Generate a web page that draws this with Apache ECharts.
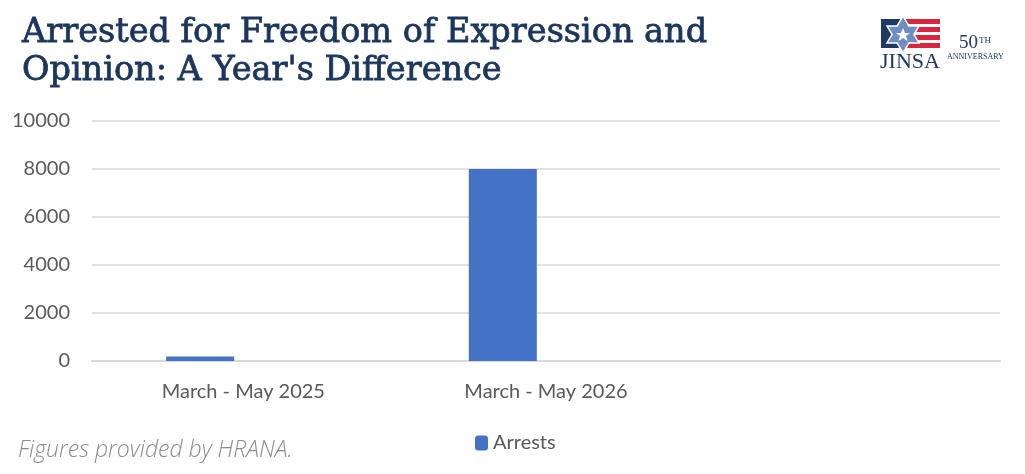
<!DOCTYPE html>
<html style="height: 100%">
<head>
    <meta charset="utf-8">
</head>
<body style="height: 100%; margin: 0">
<div id="container" style="height: 100%"></div>

<script type="text/javascript" src="https://cdn.jsdelivr.net/npm/echarts@6/dist/echarts.min.js"></script>
<script type="text/javascript">
    // data
    var categories = ['March - May 2025', 'March - May 2026', ''];
    var arrests = [190, 8000, null];
    var emptySeries = [null, null, null];
    var yTicks = [0, 2000, 4000, 6000, 8000, 10000];

    var dom = document.getElementById("container");
    var myChart = echarts.init(dom);

    var option;

    option = {
        animation: false,
        title: {
            text: 'Arrested for Freedom of Expression and\nOpinion: A Year\'s Difference',
            left: 17,
            top: 9,
            textStyle: {
                fontFamily: 'DejaVu Serif',
                fontWeight: 'normal',
                fontSize: 33.5,
                lineHeight: 38,
                color: '#1b365d',
                textBorderColor: '#1b365d',
                textBorderWidth: 0.8
            }
        },
        legend: {
            data: ['Arrests'],
            left: 470,
            top: 428,
            itemWidth: 13,
            itemHeight: 15,
            itemGap: 6,
            textStyle: {
                fontFamily: 'Lato',
                fontSize: 20,
                color: '#595959'
            }
        },
        grid: {
            left: 92,
            right: 25,
            top: 121,
            bottom: 113
        },
        xAxis: {
            type: 'category',
            data: categories,
            axisTick: { show: false },
            axisLine: { lineStyle: { color: '#d9d9d9', width: 2 } },
            axisLabel: {
                fontFamily: 'Lato',
                fontSize: 20,
                color: '#595959',
                margin: 21
            }
        },
        yAxis: {
            type: 'value',
            min: yTicks[0],
            max: yTicks[yTicks.length - 1],
            interval: yTicks[1] - yTicks[0],
            axisLine: { show: false },
            axisTick: { show: false },
            splitLine: { lineStyle: { color: '#d9d9d9', width: 1.5 } },
            axisLabel: {
                fontFamily: 'Lato',
                fontSize: 20,
                color: '#595959',
                margin: 22,
                formatter: function (v) { return String(v); }
            }
        },
        series: [{
            name: 'Arrests',
            type: 'bar',
            data: arrests,
            barWidth: 68,
            barGap: '27%',
            itemStyle: { color: '#4472c4' }
        }, {
            name: 'blank',
            type: 'bar',
            data: emptySeries,
            barWidth: 68
        }],
        graphic: [
            {
                type: 'text',
                left: 18,
                top: 439,
                style: {
                    text: 'Figures provided by HRANA.',
                    font: 'italic 300 23px "Open Sans"',
                    fill: '#8c8c8c',
                    letterSpacing: 0.6
                }
            },
            // JINSA logo
            { type: 'rect', shape: { x: 895, y: 19, width: 45, height: 5 }, style: { fill: '#d7263d' } },
            { type: 'rect', shape: { x: 895, y: 27, width: 45, height: 5 }, style: { fill: '#d7263d' } },
            { type: 'rect', shape: { x: 895, y: 35, width: 45, height: 5 }, style: { fill: '#d7263d' } },
            { type: 'rect', shape: { x: 895, y: 43, width: 45, height: 5 }, style: { fill: '#d7263d' } },
            { type: 'rect', shape: { x: 881, y: 19, width: 19, height: 29 }, style: { fill: '#1f3864' } },
            {
                type: 'polygon',
                shape: { points: [[903, 16], [919, 43], [887, 43]] },
                style: { fill: '#6f8fc4', stroke: '#ffffff', lineWidth: 1.5 }
            },
            {
                type: 'polygon',
                shape: { points: [[903, 53], [919, 26], [887, 26]] },
                style: { fill: '#6f8fc4', stroke: '#ffffff', lineWidth: 1.5 }
            },
            {
                type: 'polygon',
                shape: { points: [[903, 18], [917.5, 42], [888.5, 42]] },
                style: { fill: '#6f8fc4' }
            },
            {
                type: 'polygon',
                shape: {
                    points: [[903, 28], [905, 33], [910, 33], [906, 36], [907.5, 41], [903, 38], [898.5, 41], [900, 36], [896, 33], [901, 33]]
                },
                style: { fill: '#ffffff' }
            },
            {
                type: 'text',
                left: 880,
                top: 51,
                style: {
                    text: 'JINSA',
                    font: '22px "Liberation Serif"',
                    fill: '#1f3864',
                    letterSpacing: 2
                }
            },
            {
                type: 'text',
                left: 959,
                top: 34,
                style: {
                    text: '50',
                    font: '19px "Liberation Serif"',
                    fill: '#1f3864'
                }
            },
            {
                type: 'text',
                left: 979,
                top: 36,
                style: {
                    text: 'TH',
                    font: '9px "Liberation Serif"',
                    fill: '#1f3864'
                }
            },
            {
                type: 'text',
                left: 947,
                top: 53,
                style: {
                    text: 'ANNIVERSARY',
                    font: '8px "Liberation Serif"',
                    fill: '#1f3864'
                }
            }
        ]
    };

    myChart.setOption(option);
</script>
</body>
</html>
